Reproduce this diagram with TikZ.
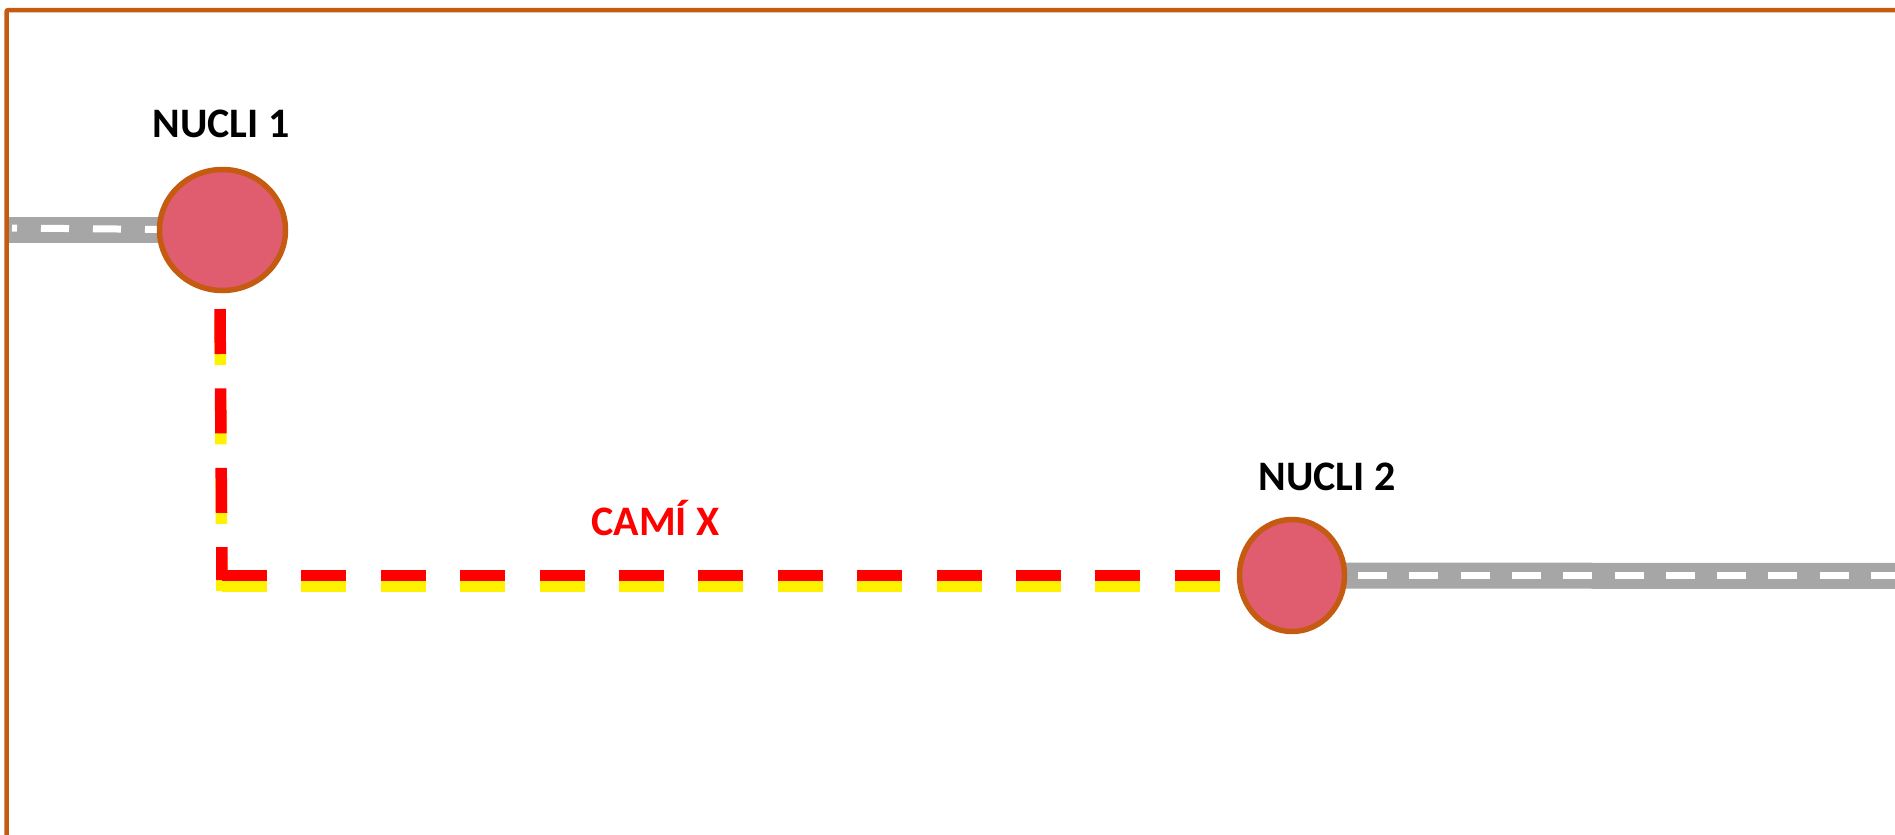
\documentclass[tikz,border=0pt]{standalone}
\usepackage{fontspec}
\setmainfont{Carlito}
\usetikzlibrary{shapes.geometric,backgrounds}
\definecolor{framec}{HTML}{C55A11}
\definecolor{nucfill}{HTML}{E05D6F}
\definecolor{roadc}{HTML}{A6A6A6}
\begin{document}
\begin{tikzpicture}[x=1pt,y=-1pt,
  framebox/.style={draw=framec,line width=4.5pt,rounded corners=2pt},
  nucli/.style={ellipse,draw=framec,fill=nucfill,line width=5.5pt,inner sep=0pt},
  nucname/.style={anchor=base,font=\fontsize{42pt}{42pt}\selectfont\bfseries,text=black,inner sep=0pt},
  caminame/.style={anchor=base,font=\fontsize{42pt}{42pt}\selectfont\bfseries,text=red,inner sep=0pt},
  roadbed/.style={draw=roadc,line width=26pt},
  roadline/.style={draw=white,line width=7pt},
  camired/.style={draw=red,line width=11.5pt,dash pattern=on 45pt off 34.4pt},
  camiyellow/.style={draw=yellow,line width=11.5pt,dash pattern=on 45pt off 34.4pt}
]
\useasboundingbox (0,0) rectangle (1895,835);
\clip (0,0) rectangle (1895,835);

% frame
\draw[framebox] (6.5,850) -- (6.5,10) -- (1910,10);

% coordinates for free ends
\coordinate (r1a) at (7,230);
\coordinate (r1w) at (12,228);
\coordinate (r2b) at (1910,576);
\coordinate (r2w) at (1358,575);
\coordinate (r2wend) at (1910,575);

% nuclis
\node[nucli,minimum width=126pt,minimum height=121pt] (n1) at (222.5,230) {};
\node[nucli,minimum width=105pt,minimum height=112pt] (n2) at (1292,575.5) {};

% roads (behind the circles)
\begin{scope}[on background layer]
\draw[roadbed] (r1a) -- (n1.center);
\draw[roadline,dash pattern=on 28pt off 24pt,dash phase=23pt] (r1w) -- (n1.center);
\draw[roadbed] (n2.center) -- (r2b);
\draw[roadline,dash pattern=on 29pt off 22.3pt] (r2w) -- (r2wend);
\end{scope}

% cami X
\coordinate (cv0) at (220,309);
\coordinate (cv1) at (222,580);
\coordinate (ch0) at (222,575.5);
\coordinate (ch1) at (1220,575.5);
\draw[camiyellow] ([yshift=-11pt]cv0) -- ([yshift=-11pt]cv1);
\draw[camiyellow] ([yshift=-11pt]ch0) -- ([yshift=-11pt]ch1);
\draw[camired] (cv0) -- (cv1);
\draw[camired] (ch0) -- (ch1);

% labels
\node[nucname] (t1) at (221,137) {NUCLI 1};
\node[nucname] (t2) at (1327,490) {NUCLI 2};
\node[caminame] (t3) at (655.5,535) {CAMÍ X};
\end{tikzpicture}
\end{document}
